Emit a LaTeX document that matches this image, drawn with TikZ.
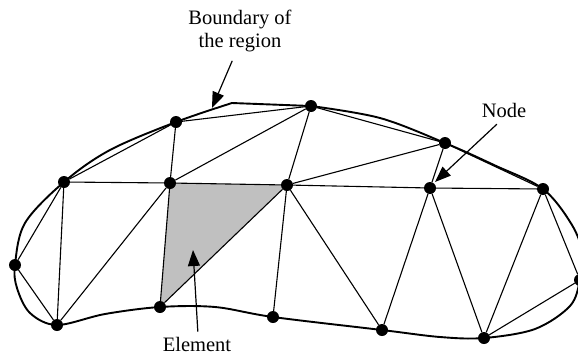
\documentclass[tikz,border=0pt]{standalone}
\usepackage{fontspec}
\setmainfont{Liberation Serif}
\usetikzlibrary{arrows.meta,backgrounds}
\definecolor{elemgray}{RGB}{192,192,192}

\begin{document}
\begin{tikzpicture}[x=1pt, y=-1pt,
  dot/.style={circle, fill=black, inner sep=0pt, minimum size=12pt},
  mesh/.style={line width=1.1pt},
  bnd/.style={line width=1.9pt, line join=round},
  lbl/.style={font=\fontsize{20.5}{23.5}\selectfont, align=center, inner sep=2pt},
  arr/.style={-{Triangle[length=16pt, width=12pt]}, line width=1.2pt}
]
\useasboundingbox (0,0) rectangle (578,357);

% mesh nodes
\node[dot] (A) at (64,182) {};
\node[dot] (B) at (176,122) {};
\node[dot] (C) at (311,106) {};
\node[dot] (D) at (445,143) {};
\node[dot] (E) at (543,189) {};
\node[dot] (F) at (580,280) {};
\node[dot] (G) at (484,338) {};
\node[dot] (H) at (382,330) {};
\node[dot] (I) at (273,317) {};
\node[dot] (J) at (160,307) {};
\node[dot] (K) at (57,325) {};
\node[dot] (L) at (15,265) {};
\node[dot] (M) at (170,183) {};
\node[dot] (N) at (287,185) {};
\node[dot] (O) at (430,188) {};

\begin{scope}[on background layer]
% shaded element
\fill[elemgray] (M.center) -- (N.center) -- (J.center) -- cycle;
% element edges
\draw[mesh] (L) -- (A) -- (B) -- (C) -- (D) -- (E) -- (F) -- (G);
\draw[mesh] (A) -- (M) -- (N) -- (O) -- (E);
\draw[mesh] (L) -- (K) -- (A);
\draw[mesh] (K) -- (M) -- (B);
\draw[mesh] (C) -- (M) -- (J) -- (N) -- (C);
\draw[mesh] (D) -- (N) -- (I);
\draw[mesh] (N) -- (H) -- (O) -- (D);
\draw[mesh] (O) -- (G) -- (E);
% boundary of the region
\draw[bnd] plot[smooth, tension=0.55] coordinates {(C.center) (380,118)
  (D.center) (494,165) (E.center) (572,225) (583,255) (F.center) (570,306)
  (535,329) (G.center) (440,337) (H.center) (I.center) (215,307) (J.center)
  (105,314) (K.center) (30,313) (17,288) (L.center) (25,223) (A.center)
  (110,150) (B.center) (232,103)} -- (C.center);
\end{scope}

% labels
\node[lbl] (bndlbl) at (240,31) {Boundary of\\the region};
\node[lbl, anchor=base] (nodelbl) at (504,117) {Node};
\node[lbl, anchor=base] (elemlbl) at (197,351) {Element};
\coordinate (bndtip) at (212,108);
\coordinate (nodetip) at (435,182);
\coordinate (elemtip) at (193,250);

\draw[arr, shorten <=7pt] ([xshift=-5pt]bndlbl.south) -- (bndtip);
\draw[arr, shorten <=7pt] ([xshift=-2pt]nodelbl.south) -- (nodetip);
\draw[arr, shorten <=3pt] ([xshift=1pt]elemlbl.north) -- (elemtip);
\end{tikzpicture}
\end{document}
